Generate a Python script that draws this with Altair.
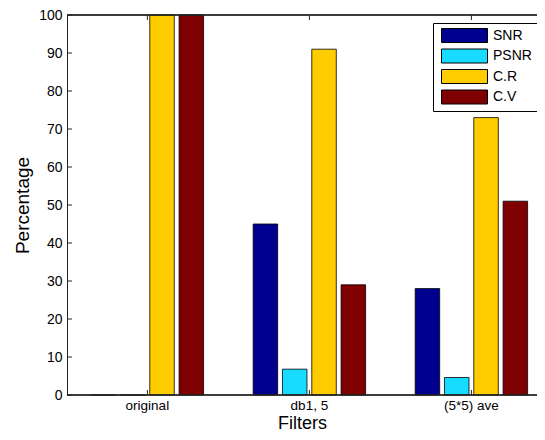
import altair as alt
import pandas as pd

categories = ["original", "db1, 5", "(5*5) ave"]
series = ["SNR", "PSNR", "C.R", "C.V"]
snr = [0, 45, 28]
psnr = [0, 6.8, 4.6]
cr = [100, 91, 73]
cv = [100, 29, 51]
colors = ["#00008F", "#17DCFF", "#FFCC00", "#7F0000"]
y_ticks = list(range(0, 101, 10))

rows = []
for name, vals in zip(series, [snr, psnr, cr, cv]):
    for c, v in zip(categories, vals):
        rows.append({"Filter": c, "Series": name, "Value": v})
df = pd.DataFrame(rows)
tick_df = pd.DataFrame({"Value": y_ticks})
cat_df = pd.DataFrame({"Filter": categories})

W, H = 470, 380
FONT = "Liberation Sans"
LINE = "#222222"

x_scale = alt.Scale(domain=categories, paddingInner=0.306, paddingOuter=0.1035, align=0.72)
y_scale = alt.Scale(domain=[0, 100], nice=False)

x_axis = alt.Axis(title="Filters", labelAngle=0, ticks=False, domain=False, labelOverlap=False,
                  labelFont=FONT, labelFontSize=13.5, labelColor="black", labelPadding=3,
                  titleFont=FONT, titleFontSize=18, titleFontWeight="normal",
                  titleColor="black", titleBaseline="alphabetic", titleY=33)
y_axis = alt.Axis(title="Percentage", values=y_ticks, ticks=False, grid=False, labelOverlap=False,
                  domainColor=LINE, domainWidth=1,
                  labelFont=FONT, labelFontSize=14, labelColor="black", labelPadding=5,
                  titleFont=FONT, titleFontSize=19, titleFontWeight="normal",
                  titleColor="black", titlePadding=6)

legend = alt.Legend(orient="none", legendX=366, legendY=8, padding=5, symbolOffset=3,
                    strokeColor="black", fillColor="white",
                    symbolType="M-1,-1 H5.57 V1 H-1 Z", symbolSize=196,
                    symbolStrokeColor="black", symbolStrokeWidth=1, symbolOpacity=1,
                    labelFont=FONT, labelFontSize=14, labelColor="black",
                    labelOffset=37, rowPadding=1.5, labelLimit=200)

bars = alt.Chart(df).mark_bar(stroke="black", strokeWidth=0.8).encode(
    x=alt.X("Filter:N", scale=x_scale, sort=categories, axis=x_axis),
    xOffset=alt.XOffset("Series:N", sort=series,
                        scale=alt.Scale(domain=series, paddingInner=0.164, paddingOuter=0)),
    y=alt.Y("Value:Q", scale=y_scale, axis=y_axis),
    color=alt.Color("Series:N", scale=alt.Scale(domain=series, range=colors),
                    sort=series, legend=legend, title=None),
)

yticks = alt.Chart(tick_df).mark_rule(color=LINE, strokeWidth=1).encode(
    y=alt.Y("Value:Q", scale=y_scale, axis=y_axis), x=alt.value(0), x2=alt.value(5))

xticks_bottom = alt.Chart(cat_df).mark_rule(color=LINE, strokeWidth=1).encode(
    x=alt.X("Filter:N", scale=x_scale, sort=categories, bandPosition=0.5, axis=x_axis),
    y=alt.value(H), y2=alt.value(H - 5))
xticks_top = alt.Chart(cat_df).mark_rule(color=LINE, strokeWidth=1).encode(
    x=alt.X("Filter:N", scale=x_scale, sort=categories, bandPosition=0.5, axis=x_axis),
    y=alt.value(0), y2=alt.value(5))

frame_top = alt.Chart(cat_df).mark_rule(color=LINE, strokeWidth=1).encode(
    x=alt.value(0), x2=alt.value(W), y=alt.value(0))
frame_bottom = alt.Chart(cat_df).mark_rule(color=LINE, strokeWidth=1).encode(
    x=alt.value(0), x2=alt.value(W), y=alt.value(H))

chart = alt.layer(bars, yticks, xticks_bottom, xticks_top, frame_top, frame_bottom).properties(
    width=W, height=H,
    autosize=alt.AutoSizeParams(type="none"),
    padding={"left": 59, "top": 7, "right": 0, "bottom": 37},
    background="white",
).configure_view(stroke=None)

chart.save("out.html", embed_options={"renderer": "svg", "actions": False})
